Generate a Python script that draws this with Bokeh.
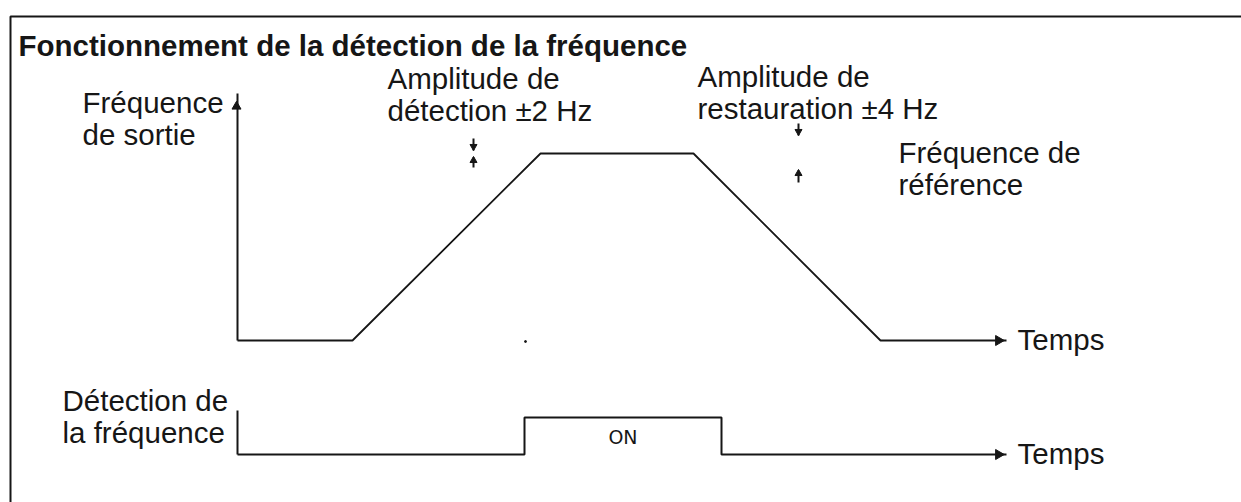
import math
from bokeh.plotting import figure
from bokeh.models import Range1d
from bokeh.embed import file_html
from bokeh.resources import INLINE
from bokeh.core.properties import value

# ---- data (schematic time units, origin at the vertical axis) ----
freq_time = [0, 115, 303, 456, 643, 769]
freq_level = [0, 0, 187, 187, 0, 0]

det_time = [0, 287, 287, 484, 484, 769]
det_state = [0, 0, 1, 1, 0, 0]
det_base = -114
det_height = 37

title = "Fonctionnement de la détection de la fréquence"
lbl_freq = ["Fréquence", "de sortie"]
lbl_detamp = ["Amplitude de", "détection ±2 Hz"]
lbl_restamp = ["Amplitude de", "restauration ±4 Hz"]
lbl_ref = ["Fréquence de", "référence"]
lbl_det = ["Détection de", "la fréquence"]
lbl_time = "Temps"
lbl_on = "ON"

INK = "#161616"
FONT = value("Liberation Sans")
FS = "29.5px"

p = figure(width=1241, height=502, x_range=Range1d(-237, 1004), y_range=Range1d(-162, 340),
           output_backend="svg", toolbar_location=None, x_axis_location=None, y_axis_location=None,
           min_border=0, min_border_left=0, min_border_right=0, min_border_top=0, min_border_bottom=0)
p.grid.visible = False
p.outline_line_color = None
p.background_fill_color = "white"
p.border_fill_color = "white"

# frame border (top and left)
p.line([-227, -227, 1004], [-162, 324, 324], line_color=INK, line_width=2)

# upper chart axes
p.line([0, 0], [0, 247], line_color=INK, line_width=2)
p.scatter([-1], [234], marker="triangle", size=9, color=INK)
p.scatter([freq_time[-1] - 8], [0], marker="triangle", size=10, color=INK, angle=-math.pi / 2)

# frequency curve
p.line(freq_time, freq_level, line_color=INK, line_width=1.8)
p.scatter([288], [-1], marker="circle", size=2, color=INK)

# amplitude marks
p.line([236, 236], [202, 190], line_color=INK, line_width=2)
p.scatter([236], [194], marker="inverted_triangle", size=7, color=INK)
p.line([236, 236], [183, 173], line_color=INK, line_width=2)
p.scatter([236], [180], marker="triangle", size=7, color=INK)

p.line([561, 561], [217, 205], line_color=INK, line_width=2)
p.scatter([561], [209], marker="inverted_triangle", size=7, color=INK)
p.line([561, 561], [170, 158], line_color=INK, line_width=2)
p.scatter([561], [167], marker="triangle", size=7, color=INK)

# lower chart
p.line([0, 0], [det_base, det_base + 44], line_color=INK, line_width=2)
p.line(det_time, [det_base + s * det_height for s in det_state], line_color=INK, line_width=2)
p.scatter([det_time[-1] - 8], [det_base], marker="triangle", size=10, color=INK, angle=-math.pi / 2)
p.text([(det_time[1] + det_time[3]) / 2], [det_base + det_height / 2 - 1], text=[lbl_on],
       text_font=value("DejaVu Sans"), text_font_size="19px", text_color=INK,
       text_align="center", text_baseline="middle")

# texts
p.text([-219], [295], text=[title], text_font=FONT, text_font_size=FS, text_font_style="bold",
       text_color=INK, text_baseline="alphabetic")


def two_lines(x, y, lines):
    p.text([x, x], [y, y - 32], text=lines, text_font=FONT, text_font_size=FS,
           text_color=INK, text_baseline="alphabetic", text_align="left")


two_lines(-155, 238, lbl_freq)
two_lines(150, 262, lbl_detamp)
two_lines(460, 264, lbl_restamp)
two_lines(661, 188, lbl_ref)
two_lines(-175, -60, lbl_det)

p.text([780, 780], [1, det_base + 1], text=[lbl_time, lbl_time], text_font=FONT, text_font_size=FS,
       text_color=INK, text_baseline="alphabetic")

open("out.html", "w").write(file_html(p, INLINE))
